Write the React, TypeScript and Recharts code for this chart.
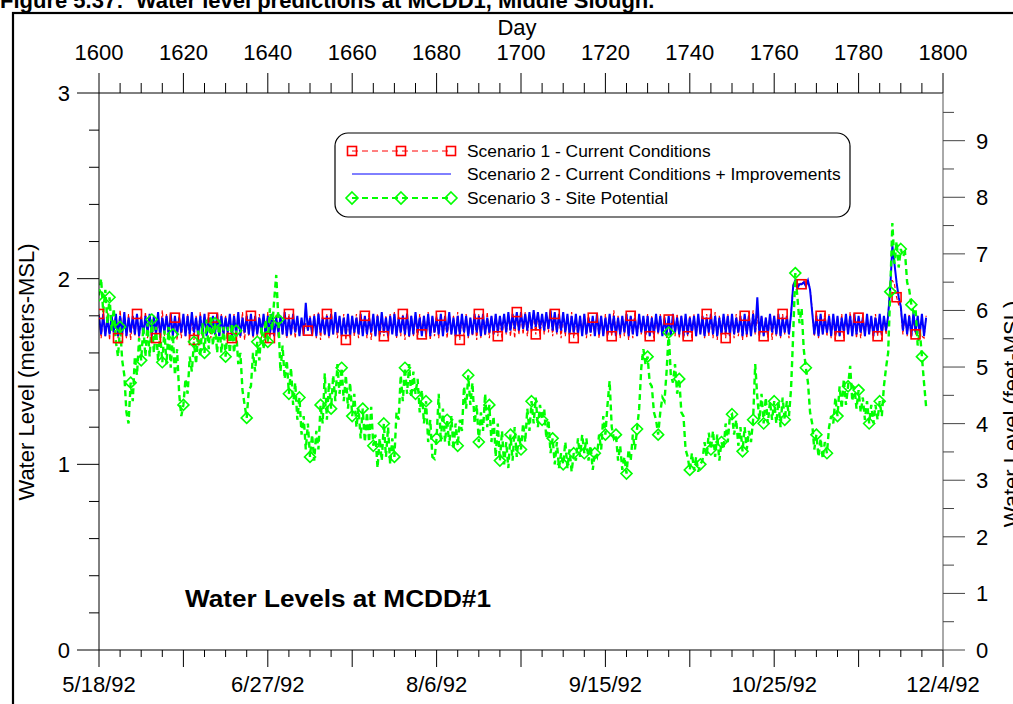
import React from 'react';
import { LineChart, Line, XAxis, YAxis } from 'recharts';

// days since start of record; one high and one low reading per day for the tidal scenarios
const startDay = 1600;

const s1High = [
  1.81, 1.80, 1.82, 1.80, 1.81, 1.83, 1.80, 1.81, 1.79, 1.81,
  1.80, 1.82, 1.81, 1.79, 1.80, 1.83, 1.81, 1.80, 1.79, 1.81,
  1.80, 1.81, 1.79, 1.80, 1.82, 1.80, 1.81, 1.79, 1.80, 1.81,
  1.80, 1.79, 1.81, 1.80, 1.82, 1.81, 1.80, 1.79, 1.81, 1.80,
  1.82, 1.80, 1.81, 1.79, 1.80, 1.81, 1.80, 1.79, 1.78, 1.76,
  1.80, 1.81, 1.82, 1.80, 1.81, 1.83, 1.80, 1.79, 1.81, 1.80,
  1.80, 1.81, 1.79, 1.80, 1.82, 1.80, 1.81, 1.79, 1.80, 1.81,
  1.82, 1.80, 1.81, 1.83, 1.80, 1.79, 1.81, 1.80, 1.82, 1.80,
  1.81, 1.80, 1.79, 1.81, 1.80, 1.82, 1.80, 1.81, 1.79, 1.80,
  1.81, 1.80, 1.82, 1.80, 1.81, 1.79, 1.80, 1.81, 1.80, 1.82,
  1.81, 1.82, 1.80, 1.81, 1.82, 1.80, 1.81, 1.83, 1.81, 1.80,
  1.81, 1.80, 1.82, 1.79, 1.80, 1.81, 1.80, 1.79, 1.81, 1.80,
  1.81, 1.80, 1.83, 1.80, 1.79, 1.81, 1.80, 1.82, 1.80, 1.79,
  1.81, 1.80, 1.79, 1.81, 1.80, 1.78, 1.80, 1.81, 1.80, 1.79,
  1.80, 1.81, 1.80, 1.79, 1.81, 1.80, 1.82, 1.80, 1.79, 1.81,
  1.80, 1.81, 1.79, 1.80, 1.82, 1.83, 1.81, 1.80, 1.79, 1.81,
  1.80, 1.79, 1.81, 1.80, 1.82, 1.99, 1.98, 1.99, 1.98, 1.83,
  1.82, 1.80, 1.82, 1.81, 1.80, 1.79, 1.81, 1.80, 1.82, 1.80,
  1.79, 1.81, 1.80, 1.79, 1.81, 1.80, 1.79, 1.81, 1.99, 1.90,
  1.84, 1.80, 1.81, 1.79, 1.80, 1.69, 1.80,
];

const s1Low = [
  1.68, 1.69, 1.67, 1.69, 1.68, 1.70, 1.68, 1.67, 1.69, 1.68,
  1.69, 1.68, 1.70, 1.68, 1.67, 1.69, 1.68, 1.69, 1.67, 1.68,
  1.69, 1.68, 1.67, 1.69, 1.68, 1.70, 1.68, 1.69, 1.67, 1.68,
  1.69, 1.68, 1.70, 1.68, 1.67, 1.69, 1.68, 1.69, 1.68, 1.67,
  1.68, 1.69, 1.68, 1.70, 1.68, 1.69, 1.68, 1.70, 1.71, 1.72,
  1.69, 1.68, 1.67, 1.69, 1.68, 1.70, 1.68, 1.69, 1.67, 1.68,
  1.69, 1.68, 1.70, 1.68, 1.67, 1.69, 1.68, 1.69, 1.68, 1.70,
  1.68, 1.69, 1.67, 1.68, 1.69, 1.68, 1.70, 1.68, 1.67, 1.69,
  1.68, 1.69, 1.68, 1.70, 1.68, 1.67, 1.69, 1.68, 1.69, 1.67,
  1.68, 1.69, 1.68, 1.70, 1.69, 1.68, 1.70, 1.69, 1.68, 1.70,
  1.70, 1.69, 1.71, 1.70, 1.69, 1.70, 1.71, 1.69, 1.70, 1.68,
  1.69, 1.70, 1.68, 1.69, 1.70, 1.68, 1.69, 1.70, 1.68, 1.69,
  1.68, 1.69, 1.70, 1.68, 1.69, 1.67, 1.68, 1.69, 1.70, 1.68,
  1.69, 1.68, 1.70, 1.69, 1.68, 1.70, 1.69, 1.68, 1.67, 1.69,
  1.68, 1.69, 1.70, 1.68, 1.69, 1.68, 1.67, 1.69, 1.68, 1.70,
  1.68, 1.69, 1.67, 1.68, 1.69, 1.70, 1.68, 1.69, 1.68, 1.67,
  1.69, 1.68, 1.70, 1.68, 1.97, 1.96, 1.97, 1.98, 1.95, 1.69,
  1.68, 1.70, 1.69, 1.68, 1.67, 1.69, 1.68, 1.70, 1.69, 1.68,
  1.68, 1.69, 1.70, 1.68, 1.69, 1.67, 1.70, 1.99, 1.97, 1.86,
  1.70, 1.69, 1.68, 1.70, 1.69, 1.68,
];

const s2High = [
  1.80, 1.81, 1.79, 1.80, 1.81, 1.80, 1.82, 1.79, 1.80, 1.81,
  1.79, 1.80, 1.81, 1.80, 1.82, 1.79, 1.80, 1.81, 1.80, 1.79,
  1.81, 1.80, 1.82, 1.79, 1.80, 1.81, 1.79, 1.80, 1.81, 1.80,
  1.79, 1.81, 1.80, 1.82, 1.79, 1.80, 1.81, 1.80, 1.79, 1.81,
  1.80, 1.81, 1.79, 1.80, 1.82, 1.79, 1.81, 1.80, 1.79, 1.87,
  1.79, 1.80, 1.81, 1.79, 1.80, 1.81, 1.82, 1.80, 1.79, 1.81,
  1.80, 1.79, 1.81, 1.80, 1.79, 1.81, 1.80, 1.82, 1.79, 1.80,
  1.81, 1.79, 1.80, 1.81, 1.80, 1.82, 1.79, 1.80, 1.81, 1.80,
  1.79, 1.81, 1.80, 1.82, 1.79, 1.80, 1.81, 1.80, 1.79, 1.81,
  1.80, 1.81, 1.79, 1.80, 1.81, 1.80, 1.81, 1.82, 1.81, 1.82,
  1.82, 1.81, 1.82, 1.83, 1.82, 1.81, 1.82, 1.83, 1.82, 1.81,
  1.82, 1.81, 1.80, 1.81, 1.80, 1.81, 1.79, 1.80, 1.81, 1.80,
  1.79, 1.81, 1.80, 1.79, 1.80, 1.81, 1.80, 1.79, 1.81, 1.80,
  1.80, 1.79, 1.81, 1.80, 1.79, 1.80, 1.81, 1.79, 1.80, 1.81,
  1.79, 1.80, 1.81, 1.80, 1.79, 1.81, 1.80, 1.79, 1.81, 1.80,
  1.81, 1.79, 1.80, 1.81, 1.80, 1.81, 1.90, 1.80, 1.79, 1.81,
  1.80, 1.81, 1.79, 1.80, 1.81, 1.99, 1.97, 1.98, 1.99, 1.82,
  1.80, 1.81, 1.79, 1.80, 1.81, 1.80, 1.79, 1.81, 1.80, 1.81,
  1.80, 1.79, 1.81, 1.80, 1.79, 1.81, 1.80, 1.80, 2.18, 1.98,
  1.85, 1.81, 1.80, 1.82, 1.80, 1.81, 1.79,
];

const s2Low = [
  1.70, 1.69, 1.70, 1.71, 1.69, 1.70, 1.69, 1.71, 1.70, 1.69,
  1.70, 1.71, 1.69, 1.70, 1.69, 1.71, 1.70, 1.69, 1.70, 1.71,
  1.69, 1.70, 1.71, 1.69, 1.70, 1.69, 1.71, 1.70, 1.69, 1.70,
  1.71, 1.69, 1.70, 1.69, 1.71, 1.70, 1.69, 1.70, 1.71, 1.69,
  1.70, 1.69, 1.71, 1.70, 1.69, 1.70, 1.71, 1.69, 1.70, 1.72,
  1.70, 1.69, 1.71, 1.70, 1.69, 1.70, 1.71, 1.69, 1.70, 1.69,
  1.71, 1.70, 1.69, 1.70, 1.71, 1.69, 1.70, 1.71, 1.69, 1.70,
  1.69, 1.71, 1.70, 1.69, 1.70, 1.71, 1.69, 1.70, 1.69, 1.71,
  1.70, 1.69, 1.71, 1.70, 1.69, 1.70, 1.71, 1.69, 1.70, 1.71,
  1.69, 1.70, 1.71, 1.70, 1.71, 1.72, 1.71, 1.72, 1.73, 1.72,
  1.73, 1.72, 1.73, 1.74, 1.73, 1.72, 1.73, 1.72, 1.71, 1.72,
  1.71, 1.70, 1.71, 1.70, 1.69, 1.70, 1.71, 1.69, 1.70, 1.69,
  1.70, 1.71, 1.69, 1.70, 1.71, 1.69, 1.70, 1.69, 1.71, 1.70,
  1.69, 1.70, 1.71, 1.69, 1.70, 1.69, 1.71, 1.70, 1.69, 1.70,
  1.71, 1.69, 1.70, 1.69, 1.71, 1.70, 1.69, 1.70, 1.71, 1.69,
  1.70, 1.71, 1.69, 1.70, 1.69, 1.71, 1.70, 1.69, 1.70, 1.71,
  1.70, 1.69, 1.71, 1.70, 1.96, 1.95, 1.97, 1.96, 1.94, 1.70,
  1.69, 1.70, 1.71, 1.69, 1.70, 1.69, 1.71, 1.70, 1.69, 1.70,
  1.71, 1.69, 1.70, 1.69, 1.71, 1.70, 1.72, 1.95, 2.08, 1.90,
  1.72, 1.70, 1.69, 1.71, 1.70, 1.69,
];

// site potential, every half day
const s3Half = [
  1.91, 2.00, 1.82, 1.94, 1.76, 1.90, 1.72, 1.84, 1.66, 1.58,
  1.74, 1.56, 1.48, 1.28, 1.22, 1.44, 1.34, 1.58, 1.48, 1.68,
  1.56, 1.74, 1.58, 1.76, 1.58, 1.78, 1.60, 1.74, 1.56, 1.70,
  1.55, 1.72, 1.54, 1.74, 1.52, 1.70, 1.48, 1.62, 1.38, 1.26,
  1.32, 1.46, 1.38, 1.58, 1.50, 1.66, 1.54, 1.72, 1.58, 1.76,
  1.60, 1.78, 1.62, 1.80, 1.64, 1.76, 1.60, 1.78, 1.60, 1.74,
  1.58, 1.74, 1.60, 1.76, 1.60, 1.72, 1.54, 1.60, 1.40, 1.32,
  1.25, 1.40, 1.42, 1.60, 1.50, 1.66, 1.56, 1.74, 1.62, 1.78,
  1.66, 1.84, 1.72, 1.88, 2.02, 1.78, 1.50, 1.64, 1.46, 1.56,
  1.38, 1.52, 1.32, 1.44, 1.24, 1.36, 1.16, 1.26, 1.08, 1.22,
  1.04, 1.16, 1.02, 1.18, 1.08, 1.32, 1.22, 1.49, 1.24, 1.44,
  1.30, 1.48, 1.34, 1.54, 1.38, 1.52, 1.34, 1.48, 1.30, 1.44,
  1.26, 1.38, 1.20, 1.30, 1.14, 1.30, 1.12, 1.28, 1.12, 1.31,
  1.10, 1.16, 0.98, 1.14, 1.02, 1.22, 1.04, 1.20, 1.00, 1.14,
  1.04, 1.28, 1.24, 1.48, 1.34, 1.52, 1.38, 1.54, 1.36, 1.50,
  1.38, 1.46, 1.28, 1.40, 1.22, 1.34, 1.12, 1.24, 1.04, 1.03,
  1.14, 1.38, 1.12, 1.30, 1.12, 1.24, 1.10, 1.26, 1.08, 1.22,
  1.10, 1.24, 1.18, 1.42, 1.30, 1.48, 1.32, 1.44, 1.22, 1.32,
  1.12, 1.28, 1.18, 1.38, 1.20, 1.32, 1.12, 1.26, 1.04, 1.22,
  1.02, 1.18, 1.00, 1.12, 0.98, 1.16, 1.02, 1.20, 1.04, 1.16,
  1.08, 1.22, 1.12, 1.30, 1.18, 1.34, 1.22, 1.36, 1.20, 1.32,
  1.24, 1.30, 1.14, 1.24, 1.06, 1.14, 1.00, 1.12, 0.98, 1.06,
  1.00, 1.12, 0.98, 1.08, 0.96, 1.06, 1.02, 1.14, 1.04, 1.16,
  1.06, 1.14, 1.02, 1.10, 0.97, 1.06, 1.04, 1.16, 1.08, 1.26,
  1.16, 1.32, 1.45, 1.20, 1.14, 1.16, 1.02, 1.10, 0.97, 1.04,
  0.95, 1.08, 1.02, 1.16, 1.08, 1.19, 1.30, 1.52, 1.62, 1.54,
  1.58, 1.44, 1.42, 1.28, 1.24, 1.16, 1.28, 1.36, 1.34, 1.50,
  1.71, 1.48, 1.44, 1.54, 1.38, 1.46, 1.28, 1.26, 1.08, 1.04,
  0.97, 1.06, 0.97, 1.04, 0.96, 1.00, 1.02, 1.12, 1.04, 1.17,
  1.08, 1.18, 1.04, 1.16, 1.02, 1.12, 1.08, 1.22, 1.12, 1.26,
  1.27, 1.16, 1.24, 1.10, 1.20, 1.07, 1.20, 1.08, 1.18, 1.12,
  1.24, 1.54, 1.36, 1.24, 1.38, 1.22, 1.36, 1.22, 1.34, 1.24,
  1.34, 1.22, 1.34, 1.20, 1.36, 1.24, 1.34, 1.26, 1.41, 1.70,
  2.03, 1.90, 1.76, 1.84, 1.62, 1.52, 1.44, 1.28, 1.22, 1.08,
  1.16, 1.04, 1.14, 1.03, 1.12, 1.06, 1.20, 1.26, 1.22, 1.36,
  1.26, 1.42, 1.30, 1.46, 1.32, 1.42, 1.53, 1.34, 1.42, 1.30,
  1.40, 1.28, 1.36, 1.24, 1.34, 1.22, 1.32, 1.22, 1.32, 1.24,
  1.34, 1.26, 1.42, 1.52, 1.60, 1.93, 2.30, 2.08, 2.20, 2.06,
  2.16, 2.12, 2.14, 1.98, 1.94, 1.86, 1.82, 1.84, 1.64, 1.72,
  1.58, 1.44, 1.31,
];

const dayLabels = [1600, 1620, 1640, 1660, 1680, 1700, 1720, 1740, 1760, 1780, 1800];
const dateDays = [1600, 1640, 1680, 1720, 1760, 1800];
const dateLabels = ['5/18/92', '6/27/92', '8/6/92', '9/15/92', '10/25/92', '12/4/92'];
const meterLabels = [0, 1, 2, 3];
const feetLabels = [0, 1, 2, 3, 4, 5, 6, 7, 8, 9];

const rows: { day: number; s1: number; s2: number; s3: number }[] = [];
for (let i = 0; i < s1High.length; i++) {
  rows.push({ day: startDay + i, s1: s1High[i], s2: s2High[i], s3: s3Half[2 * i] });
  if (i < s1Low.length) {
    rows.push({ day: startDay + i + 0.5, s1: s1Low[i], s2: s2Low[i], s3: s3Half[2 * i + 1] });
  }
}

const dayTicks: number[] = [];
for (let d = 1600; d <= 1800; d += 5) dayTicks.push(d);
const meterTicks: number[] = [];
for (let i = 0; i <= 15; i++) meterTicks.push(i / 5);
const feetTicks: number[] = [];
for (let i = 0; i <= 19; i++) feetTicks.push(i / 2);

const font = "'Liberation Sans', Arial, Helvetica, sans-serif";

function TopTick({ x, y, payload }: any) {
  const v = payload.value;
  const major = dayLabels.includes(v);
  return (
    <g>
      <line x1={x} y1={y} x2={x} y2={y - (major ? 20 : 10)} stroke="#000" />
      {major && (
        <text x={x} y={y - 33} textAnchor="middle" fontSize={22} fontFamily={font} fill="#000">{v}</text>
      )}
    </g>
  );
}

function BottomTick({ x, y, payload }: any) {
  const v = payload.value;
  const k = dateDays.indexOf(v);
  return (
    <g>
      <line x1={x} y1={y} x2={x} y2={y + (v % 20 === 0 ? 17 : 7)} stroke="#000" />
      {k >= 0 && (
        <text x={x} y={y + 42} textAnchor="middle" fontSize={22} fontFamily={font} fill="#000">{dateLabels[k]}</text>
      )}
    </g>
  );
}

function LeftTick({ x, y, payload }: any) {
  const v = payload.value;
  const major = meterLabels.includes(v);
  return (
    <g>
      <line x1={x} y1={y} x2={x - (major ? 22 : 10)} y2={y} stroke="#000" />
      {major && (
        <text x={x - 29} y={y + 8} textAnchor="end" fontSize={22} fontFamily={font} fill="#000">{v}</text>
      )}
    </g>
  );
}

function RightTick({ x, y, payload }: any) {
  const v = payload.value;
  const major = feetLabels.includes(v);
  return (
    <g>
      <line x1={x} y1={y} x2={x + (major ? 22 : 11)} y2={y} stroke="#444" />
      {major && (
        <text x={x + 33} y={y + 8} textAnchor="start" fontSize={22} fontFamily={font} fill="#000">{v}</text>
      )}
    </g>
  );
}

const squareDot = (p: any) =>
  p.index % 9 === 0 && p.cx != null ? (
    <rect key={p.index} x={p.cx - 4.5} y={p.cy - 4.5} width={9} height={9} fill="none" stroke="#ff0000" strokeWidth={1.6} />
  ) : (
    <g key={p.index} />
  );

const diamondDot = (p: any) =>
  p.index % 5 === 0 && p.cx != null ? (
    <path key={p.index} d={`M${p.cx},${p.cy - 5.5} L${p.cx + 5.5},${p.cy} L${p.cx},${p.cy + 5.5} L${p.cx - 5.5},${p.cy} Z`} fill="none" stroke="#00ff00" strokeWidth={1.6} />
  ) : (
    <g key={p.index} />
  );

function LegendBox() {
  const sx = [352, 401, 451];
  return (
    <g fontFamily={font} fontSize={17.4} fill="#000">
      <rect x={335} y={133} width={515} height={84} rx={13} fill="#fff" stroke="#000" strokeWidth={1.2} />
      <line x1={352} y1={151} x2={451} y2={151} stroke="#ff0000" strokeDasharray="6 4" />
      {sx.map((x) => (
        <rect key={x} x={x - 4.5} y={146.5} width={9} height={9} fill="none" stroke="#ff0000" strokeWidth={1.6} />
      ))}
      <text x={467} y={157}>Scenario 1 - Current Conditions</text>
      <line x1={352} y1={174} x2={451} y2={174} stroke="#0000ff" />
      <text x={467} y={180}>Scenario 2 - Current Conditions + Improvements</text>
      <line x1={352} y1={198} x2={451} y2={198} stroke="#00ff00" strokeWidth={2} strokeDasharray="6 4" />
      {sx.map((x) => (
        <path key={x} d={`M${x},${192} L${x + 6},${198} L${x},${204} L${x - 6},${198} Z`} fill="none" stroke="#00ff00" strokeWidth={1.6} />
      ))}
      <text x={467} y={204}>Scenario 3 - Site Potential</text>
    </g>
  );
}

export default function App() {
  return (
    <div style={{ position: 'fixed', left: 0, top: 0, width: 1013, height: 704, background: '#fff', overflow: 'hidden' }}>
      <LineChart width={1013} height={704} data={rows} margin={{ top: 0, right: 0, bottom: 0, left: 0 }}>
        <XAxis xAxisId="top" orientation="top" type="number" dataKey="day" domain={[1600, 1800]} allowDataOverflow
          ticks={dayTicks} interval={0} height={93} tickSize={0} tickMargin={0} tickLine={false}
          axisLine={{ stroke: '#000' }} tick={<TopTick />} />
        <XAxis xAxisId="bottom" orientation="bottom" type="number" dataKey="day" domain={[1600, 1800]} allowDataOverflow
          ticks={dayTicks} interval={0} height={54} tickSize={0} tickMargin={0} tickLine={false}
          axisLine={{ stroke: '#000' }} tick={<BottomTick />} />
        <YAxis yAxisId="left" orientation="left" type="number" domain={[0, 3]} allowDataOverflow
          ticks={meterTicks} interval={0} width={99} tickSize={0} tickMargin={0} tickLine={false}
          axisLine={{ stroke: '#000' }} tick={<LeftTick />} />
        <YAxis yAxisId="right" orientation="right" type="number" domain={[0, 9.8425]} allowDataOverflow
          ticks={feetTicks} interval={0} width={70} tickSize={0} tickMargin={0} tickLine={false}
          axisLine={{ stroke: '#555' }} tick={<RightTick />} />
        <Line xAxisId="bottom" yAxisId="left" type="linear" dataKey="s1" stroke="#ff0000" strokeWidth={1.2}
          strokeDasharray="4 2" dot={squareDot} activeDot={false} isAnimationActive={false} />
        <Line xAxisId="bottom" yAxisId="left" type="linear" dataKey="s2" stroke="#0000ff" strokeWidth={2}
          dot={false} activeDot={false} isAnimationActive={false} />
        <Line xAxisId="bottom" yAxisId="left" type="linear" dataKey="s3" stroke="#00ff00" strokeWidth={2.4}
          strokeDasharray="6 4" dot={diamondDot} activeDot={false} isAnimationActive={false} />
      </LineChart>
      <svg width={1013} height={704} style={{ position: 'absolute', left: 0, top: 0, pointerEvents: 'none' }}>
        <rect x={13} y={13} width={1100} height={800} fill="none" stroke="#000" strokeWidth={2.2} />
        <text x={0} y={8} fontFamily={font} fontSize={22} fontWeight="bold" fill="#000" style={{ whiteSpace: 'pre' }}>
          Figure 5.37:  Water level predictions at MCDD1, Middle Slough.
        </text>
        <text x={517} y={35} textAnchor="middle" fontFamily={font} fontSize={22} fill="#000">Day</text>
        <text transform="translate(34,372) rotate(-90)" textAnchor="middle" fontFamily={font} fontSize={22} fill="#000">
          Water Level (meters-MSL)
        </text>
        <text transform="translate(1019,414) rotate(-90)" textAnchor="middle" fontFamily={font} fontSize={22} fill="#000">
          Water Level (feet-MSL)
        </text>
        <text x={185} y={607} fontFamily={font} fontSize={23} fontWeight="bold" fill="#000" textLength={306} lengthAdjust="spacingAndGlyphs">
          Water Levels at MCDD#1
        </text>
        <LegendBox />
      </svg>
    </div>
  );
}
